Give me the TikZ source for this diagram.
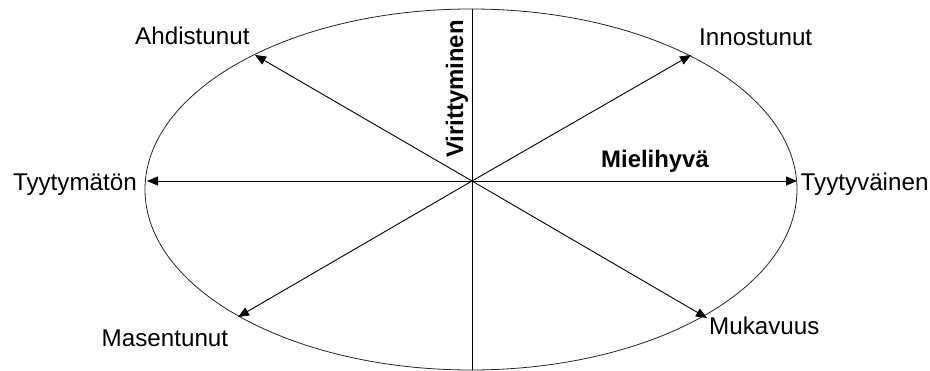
\documentclass[tikz,border=0pt]{standalone}
\usepackage{fontspec}
\setmainfont{Liberation Sans}
\usetikzlibrary{arrows.meta}
\begin{document}
\begin{tikzpicture}[x=1pt,y=-1pt,
  lbl/.style={inner sep=0pt,font=\fontsize{24.2}{29}\selectfont},
  blbl/.style={inner sep=0pt,font=\fontsize{23.9}{28}\selectfont\bfseries},
  arr/.style={line width=0.9pt,-{Triangle[length=11pt,width=9pt]}},
  axis/.style={line width=0.9pt}]
\useasboundingbox (0,0) rectangle (930,371);
\fill[white] (0,0) rectangle (930,371);
\draw[line width=0.8pt,black!85] (471,189.5) ellipse [x radius=326, y radius=180.5];
\coordinate (c) at (472,181);
\coordinate (top) at (472,9);
\coordinate (bot) at (472,370);
\coordinate (tL) at (147,181);
\coordinate (tR) at (797,181);
\coordinate (tUL) at (255,55);
\coordinate (tUR) at (691,55);
\coordinate (tLL) at (238,317);
\coordinate (tLR) at (707,318);
\draw[axis] (top) -- (bot);
\draw[arr] (c) -- (tL);
\draw[arr] (c) -- (tR);
\draw[arr] (c) -- (tUL);
\draw[arr] (c) -- (tUR);
\draw[arr] (c) -- (tLL);
\draw[arr] (c) -- (tLR);
\node[blbl,rotate=90,anchor=base] (vir) at (463,89) {Virittyminen};
\node[blbl,anchor=base] (mie) at (655,168) {Mielihyvä};
\node[lbl,anchor=base west] (tyv) at (800.5,190.5) {Tyytyväinen};
\node[lbl,anchor=base east] (tym) at (137,190.5) {Tyytymätön};
\node[lbl,anchor=base west] (ahd) at (135,45) {Ahdistunut};
\node[lbl,anchor=base west] (inn) at (699,46) {Innostunut};
\node[lbl,anchor=base west] (mas) at (101.5,346.5) {Masentunut};
\node[lbl,anchor=base west] (muk) at (709,335) {Mukavuus};
\end{tikzpicture}
\end{document}
